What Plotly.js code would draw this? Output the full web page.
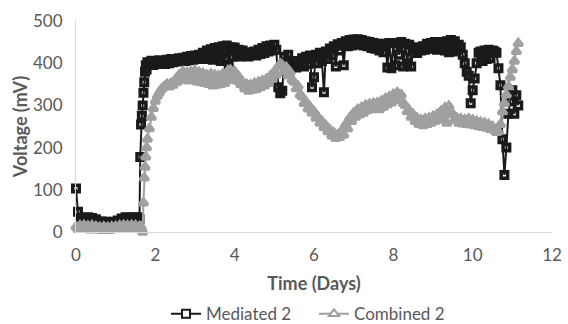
<!DOCTYPE html>
<html><head><meta charset="utf-8">
<script src="https://cdn.plot.ly/plotly-3.0.1.min.js"></script>
<style>html,body{margin:0;padding:0;background:#fff}#chart{width:568px;height:324px}</style>
</head><body><div id="chart"></div>
<script>
// Time (days), shared by both series
const days = [
  0, 0.05, 0.1, 0.15, 0.2, 0.25, 0.3, 0.35, 0.4, 0.45,
  0.5, 0.55, 0.6, 0.65, 0.7, 0.75, 0.8, 0.85, 0.9, 0.95,
  1.0, 1.05, 1.1, 1.15, 1.2, 1.25, 1.3, 1.35, 1.4, 1.45,
  1.5, 1.55, 1.6, 1.62, 1.64, 1.66, 1.68, 1.7, 1.72, 1.74,
  1.76, 1.78, 1.8, 1.85, 1.9, 1.95, 2.0, 2.05, 2.1, 2.15,
  2.2, 2.25, 2.3, 2.35, 2.4, 2.45, 2.5, 2.55, 2.6, 2.65,
  2.7, 2.75, 2.8, 2.85, 2.9, 2.95, 3.0, 3.05, 3.1, 3.15,
  3.2, 3.25, 3.3, 3.35, 3.4, 3.45, 3.5, 3.55, 3.6, 3.65,
  3.7, 3.75, 3.8, 3.85, 3.9, 3.95, 4.0, 4.05, 4.1, 4.15,
  4.2, 4.25, 4.3, 4.35, 4.4, 4.45, 4.5, 4.55, 4.6, 4.65,
  4.7, 4.75, 4.8, 4.85, 4.9, 4.95, 5.0, 5.05, 5.1, 5.15,
  5.2, 5.25, 5.3, 5.35, 5.4, 5.45, 5.5, 5.55, 5.6, 5.65,
  5.7, 5.75, 5.8, 5.85, 5.9, 5.95, 6.0, 6.05, 6.1, 6.15,
  6.2, 6.25, 6.3, 6.35, 6.4, 6.45, 6.5, 6.55, 6.6, 6.65,
  6.7, 6.75, 6.8, 6.85, 6.9, 6.95, 7.0, 7.05, 7.1, 7.15,
  7.2, 7.25, 7.3, 7.35, 7.4, 7.45, 7.5, 7.55, 7.6, 7.65,
  7.7, 7.75, 7.8, 7.85, 7.9, 7.95, 8.0, 8.05, 8.1, 8.15,
  8.2, 8.25, 8.3, 8.35, 8.4, 8.45, 8.5, 8.55, 8.6, 8.65,
  8.7, 8.75, 8.8, 8.85, 8.9, 8.95, 9.0, 9.05, 9.1, 9.15,
  9.2, 9.25, 9.3, 9.35, 9.4, 9.45, 9.5, 9.55, 9.6, 9.65,
  9.7, 9.75, 9.8, 9.85, 9.9, 9.95, 10.0, 10.05, 10.1, 10.15,
  10.2, 10.25, 10.3, 10.35, 10.4, 10.45, 10.5, 10.55, 10.6, 10.65,
  10.7, 10.75, 10.8, 10.85, 10.9, 10.95, 11.0, 11.05, 11.1, 11.15
];

// Mediated 2 voltage (mV)
const mediated2 = [
  103, 48, 32, 28, 34, 30, 35, 29, 33, 27,
  30, 24, 20, 25, 19, 24, 20, 22, 19, 24,
  22, 27, 25, 32, 29, 35, 31, 34, 30, 35,
  31, 35, 30, 178, 255, 275, 300, 330, 355, 380,
  395, 385, 402, 398, 406, 396, 404, 398, 407, 399,
  405, 398, 408, 400, 410, 402, 409, 404, 412, 405,
  413, 405, 415, 407, 417, 408, 418, 410, 420, 411,
  425, 410, 430, 412, 433, 408, 436, 414, 438, 405,
  440, 410, 442, 395, 438, 415, 437, 418, 432, 416,
  430, 418, 426, 416, 424, 420, 428, 418, 432, 422,
  436, 424, 440, 428, 442, 430, 444, 432, 343, 329,
  335, 415, 390, 420, 405, 395, 400, 390, 405, 395,
  412, 392, 415, 398, 418, 343, 367, 420, 400, 425,
  405, 331, 428, 410, 435, 418, 440, 392, 445, 430,
  448, 395, 452, 440, 455, 442, 456, 444, 457, 446,
  455, 442, 452, 440, 450, 436, 448, 434, 446, 430,
  445, 426, 446, 390, 448, 388, 447, 395, 448, 420,
  450, 392, 446, 400, 444, 392, 430, 438, 424, 436,
  430, 440, 432, 446, 434, 448, 436, 450, 432, 446,
  434, 450, 430, 452, 426, 455, 428, 452, 432, 444,
  438, 420, 400, 380, 370, 305, 336, 364, 400, 425,
  428, 405, 430, 410, 432, 412, 430, 428, 425, 388,
  348, 220, 135, 200, 280, 310, 336, 280, 324, 300
];

// Combined 2 voltage (mV)
const combined2 = [
  12, 6, 15, 8, 16, 6, 14, 5, 15, 8,
  13, 5, 11, 4, 12, 5, 11, 4, 12, 6,
  13, 6, 15, 8, 16, 9, 15, 8, 16, 9,
  15, 8, 13, 10, 12, 6, 0, 69, 128, 154,
  178, 200, 220, 245, 272, 293, 310, 322, 330, 338,
  342, 346, 350, 344, 352, 348, 360, 355, 372, 360,
  380, 362, 378, 358, 380, 360, 382, 356, 378, 354,
  376, 352, 372, 350, 374, 346, 372, 348, 370, 350,
  374, 352, 378, 360, 383, 362, 380, 358, 368, 350,
  355, 340, 350, 334, 348, 336, 352, 338, 355, 342,
  358, 346, 362, 352, 370, 362, 380, 372, 392, 398,
  395, 380, 390, 370, 378, 360, 355, 340, 345, 325,
  320, 305, 308, 292, 296, 282, 285, 270, 272, 258,
  262, 248, 252, 238, 242, 228, 235, 222, 230, 224,
  240, 230, 255, 245, 270, 262, 282, 272, 290, 278,
  295, 282, 300, 288, 303, 290, 305, 292, 306, 290,
  310, 296, 316, 302, 320, 306, 326, 312, 330, 322,
  325, 305, 300, 285, 288, 272, 278, 262, 270, 255,
  265, 252, 268, 255, 270, 258, 274, 262, 278, 266,
  286, 272, 294, 258, 298, 285, 278, 266, 270, 258,
  268, 256, 266, 255, 268, 254, 265, 252, 262, 250,
  260, 248, 258, 246, 255, 243, 250, 240, 236, 238,
  255, 285, 305, 325, 345, 367, 385, 405, 428, 447
];

const seriesNames = ["Mediated 2", "Combined 2"];
const xTickVals = [0, 2, 4, 6, 8, 10, 12];
const yTickVals = [0, 100, 200, 300, 400, 500];

const FONT = "Lato, 'Open Sans', sans-serif";
const TXT = "#595959";
const AX = "#d9d9d9";
const BLACK = "#1a1a1a";
const GRAY = "#a0a0a0";

const traces = [
  {
    x: days, y: mediated2, name: seriesNames[0], type: "scatter", mode: "lines+markers",
    showlegend: false, legendgroup: "m",
    line: {color: BLACK, width: 2},
    marker: {symbol: "square-open", size: 6.5, color: BLACK, line: {width: 3.5}},
    cliponaxis: false
  },
  {
    x: days, y: combined2, name: seriesNames[1], type: "scatter", mode: "lines+markers",
    showlegend: false, legendgroup: "c",
    line: {color: GRAY, width: 2},
    marker: {symbol: "triangle-up-open", size: 7.5, color: GRAY, line: {width: 3.5}},
    cliponaxis: false
  },
  // legend entries (white-filled markers, as in the original legend)
  {
    x: [null], y: [null], name: seriesNames[0], type: "scatter", mode: "lines+markers",
    legendgroup: "m",
    line: {color: BLACK, width: 2},
    marker: {symbol: "square", size: 8, color: "#ffffff", line: {color: BLACK, width: 2}}
  },
  {
    x: [null], y: [null], name: seriesNames[1], type: "scatter", mode: "lines+markers",
    legendgroup: "c",
    line: {color: GRAY, width: 2},
    marker: {symbol: "triangle-up", size: 9, color: "#ffffff", line: {color: GRAY, width: 2}}
  }
];

const layout = {
  width: 568, height: 324,
  margin: {l: 76, r: 16, t: 21, b: 92, autoexpand: false},
  paper_bgcolor: "#ffffff", plot_bgcolor: "#ffffff",
  font: {family: FONT, color: TXT, size: 17},
  showlegend: true,
  xaxis: {
    range: [0, 12], tickvals: xTickVals, ticktext: xTickVals.map(String),
    showline: true, linecolor: AX, linewidth: 1, showgrid: false, zeroline: false,
    ticks: "", ticklabelstandoff: 8, automargin: false,
    tickfont: {family: FONT, size: 17, color: TXT},
    title: {text: "<b>Time (Days)</b>", font: {family: FONT, size: 18, color: TXT}, standoff: 12}
  },
  yaxis: {
    range: [0, 500], tickvals: yTickVals, ticktext: yTickVals.map(String),
    showline: true, linecolor: AX, linewidth: 1, showgrid: false, zeroline: false,
    ticks: "", ticklabelstandoff: 9, automargin: false,
    tickfont: {family: FONT, size: 17, color: TXT},
    title: {text: "<b>Voltage (mV)</b>", font: {family: FONT, size: 18, color: TXT}, standoff: 0}
  },
  legend: {
    orientation: "h", x: 0.5, xanchor: "center", y: -0.39, yanchor: "middle",
    entrywidth: 103, entrywidthmode: "pixels",
    font: {family: FONT, size: 17, color: TXT}, bgcolor: "rgba(0,0,0,0)"
  }
};

Plotly.newPlot("chart", traces, layout, {staticPlot: true, displayModeBar: false});
</script>
</body></html>
